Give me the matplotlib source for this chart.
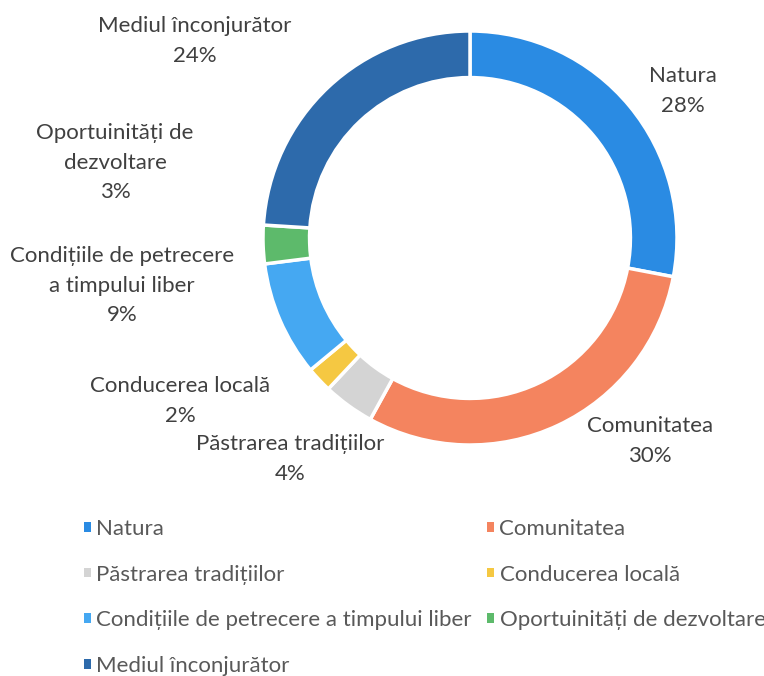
import matplotlib
matplotlib.use("Agg")
import matplotlib.pyplot as plt
from matplotlib.patches import Patch

categories = ["Natura", "Comunitatea", "Păstrarea tradițiilor", "Conducerea locală",
              "Condițiile de petrecere a timpului liber", "Oportuinități de dezvoltare",
              "Mediul înconjurător"]
values = [28, 30, 4, 2, 9, 3, 24]
label_texts = ["Natura", "Comunitatea", "Păstrarea tradițiilor", "Conducerea locală",
               "Condițiile de petrecere\na timpului liber", "Oportuinități de\ndezvoltare",
               "Mediul înconjurător"]
colors = ["#2a8be3", "#f4845f", "#d4d4d4", "#f5c842", "#45a8f2", "#5dba6b", "#2d6aab"]

# label anchor positions in pixels (center x, first-line center y)
label_pos = [(683, 75), (650, 425), (290, 443), (180, 385), (122, 255), (115, 132), (195, 25)]

W, H = 764, 676
plt.rcParams['font.family'] = ['Lato', 'DejaVu Sans']
fig = plt.figure(figsize=(W / 100, H / 100), dpi=100)

cx, cy, R = 470, 238, 207
ax = fig.add_axes([(cx - R) / W, (H - cy - R) / H, 2 * R / W, 2 * R / H])
ax.pie(values, colors=colors, startangle=90, counterclock=False, radius=1.0,
       wedgeprops=dict(width=0.225, edgecolor="white", linewidth=2.5))
ax.set_xlim(-1, 1)
ax.set_ylim(-1, 1)
ax.set_aspect("equal")
ax.axis("off")

txt_color = "#404040"
fs = 16
for txt, v, (px, py) in zip(label_texts, values, label_pos):
    fig.text(px / W, 1 - (py - 9) / H, f"{txt}\n{v}%", ha="center", va="top",
             fontsize=fs, color=txt_color, linespacing=1.6)

order = [0, 2, 4, 6, 1, 3, 5]
handles = [Patch(facecolor=colors[i], edgecolor="none") for i in order]
labels = [categories[i] for i in order]
leg = fig.legend(handles, labels, ncol=2, loc="upper left",
                 bbox_to_anchor=(84 / W, 1 - 519 / H), frameon=False,
                 fontsize=fs, labelcolor="#595959", handlelength=0.3, handleheight=0.3,
                 handletextpad=0.25, columnspacing=0.7, labelspacing=1.15,
                 borderpad=0, borderaxespad=0)

fig.savefig("out.png", dpi=100, facecolor="white")
